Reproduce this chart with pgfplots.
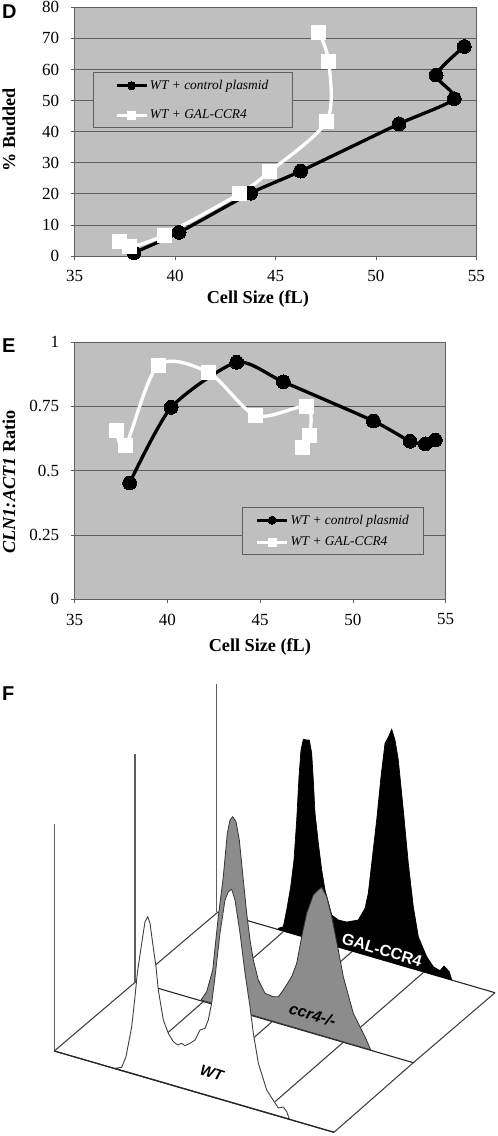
\documentclass[border=0pt]{standalone}
\usepackage{fontspec}
\setmainfont{Liberation Serif}
\newfontfamily\panelfont{Liberation Sans}
\usepackage{pgfplots}
\pgfplotsset{compat=1.18}
\definecolor{plotbg}{HTML}{BFBFBF}
\definecolor{gridc}{HTML}{5F5F5F}
\definecolor{midgray}{HTML}{8C8C8C}
\pgfplotsset{
  panel/.style={
    scale only axis, axis background/.style={fill=plotbg},
    xmin=35, xmax=55, xtick={35,40,45,50,55},
    axis line style={gridc, line width=0.9pt},
    tick style={gridc, line width=0.8pt, major tick length=4pt},
    tick align=outside, xtick pos=bottom, ytick pos=left,
    ymajorgrids, grid style={gridc, line width=0.8pt},
    /pgf/number format/assume math mode=true,
    tick label style={font=\fontsize{17}{19}\selectfont},
    xticklabel style={yshift=-7pt},
    yticklabel style={xshift=-8pt},
    legend cell align=left,
    legend image code/.code={\draw[sharp plot, mark repeat=2, mark phase=2, ##1] plot coordinates {(0pt,0pt)(15pt,0pt)(30pt,0pt)};},
  },
  ctrl/.style={black, line width=3.3pt, smooth, tension=0.4, mark=*, mark size=6.9pt, mark options={solid, fill=black, draw=black, line width=0pt}},
  gal/.style={white, line width=3.3pt, smooth, tension=0.5, mark=square*, mark size=7pt, mark options={solid, fill=white, draw=white, line width=0pt}},
}
\newcommand{\lblfont}{\fontsize{18.2}{20}\selectfont\bfseries}
\begin{document}
\begin{tikzpicture}[x=1pt,y=1pt]
\path[use as bounding box] (0,0) rectangle (498,1136);
% ---------- D
\begin{axis}[panel, at={(74.7pt,880pt)}, anchor=south west, width=401.6pt, height=248.7pt,
  ymin=0, ymax=80, ytick={0,10,...,80},
  xlabel={Cell Size (fL)}, ylabel={\% Budded},
  every axis x label/.style={at={(axis description cs:0.456,-0.173)}, anchor=center, font=\lblfont},
  every axis y label/.style={at={(axis description cs:-0.164,0.507)}, anchor=center, rotate=90, font=\lblfont},
  legend style={at={(axis description cs:0.0448,0.7386)}, anchor=north west, fill=plotbg, draw=gridc, line width=0.9pt,
    font=\fontsize{13.4}{15}\selectfont\itshape, inner xsep=22pt, inner ysep=5.5pt, row sep=15pt,
    legend image post style={mark size=4pt, line width=2.8pt}},
]
\addplot[ctrl] coordinates {(37.95,1.07)(40.2,7.6)(43.76,20.2)(46.25,27.3)(51.15,42.5)(53.9,50.6)(53.0,58.2)(54.4,67.4)};
\addplot[gal] coordinates {(37.25,4.8)(37.75,2.9)(39.45,6.75)(43.2,20)(44.7,27.1)(47.55,43.4)(47.65,62.5)(47.15,72)};
\legend{WT + control plasmid, WT + GAL-CCR4}
\end{axis}
% ---------- E
\begin{axis}[panel, at={(74.7pt,536.7pt)}, anchor=south west, width=371pt, height=257.3pt,
  ymin=0, ymax=1, ytick={0,0.25,0.5,0.75,1}, yticklabels={0,0.25,0.5,0.75,1},
  xlabel={Cell Size (fL)}, ylabel={\textit{CLN1:ACT1} Ratio},
  every axis x label/.style={at={(axis description cs:0.499,-0.184)}, anchor=center, font=\lblfont},
  every axis y label/.style={at={(axis description cs:-0.177,0.456)}, anchor=center, rotate=90, font=\lblfont},
  legend style={at={(axis description cs:0.4518,0.3576)}, anchor=north west, fill=plotbg, draw=gridc, line width=0.9pt,
    font=\fontsize{13.4}{15}\selectfont\itshape, inner xsep=13pt, inner ysep=5pt, row sep=7.4pt,
    legend image post style={mark size=4pt, line width=2.8pt}},
]
\addplot[ctrl] coordinates {(37.96,0.452)(40.2,0.746)(43.73,0.921)(46.25,0.845)(51.1,0.693)(53.08,0.614)(53.9,0.604)(54.44,0.619)};
\addplot[gal] coordinates {(37.26,0.655)(37.75,0.598)(39.5,0.909)(42.22,0.881)(44.77,0.714)(47.5,0.749)(47.67,0.637)(47.3,0.589)};
\legend{WT + control plasmid, WT + GAL-CCR4}
\end{axis}
% ---------- F
\begin{axis}[at={(0pt,0pt)}, anchor=south west, scale only axis, width=498pt, height=476pt,
  xmin=0, xmax=498, ymin=660, ymax=1136, y dir=reverse, axis lines=none, clip=false]
% vertical axes
\addplot[color=gridc, line width=1.5pt] coordinates {(54.5,824)(54.5,1051)};
\addplot[color=gridc, line width=1.5pt] coordinates {(135.2,754)(135.2,982)};
\addplot[color=gridc, line width=1.5pt] coordinates {(216.5,684)(216.5,912)};
% floor
\addplot[color=gridc!70!black, line width=1.1pt] coordinates {(54.3,1051)(136,981.5)(218,912)};
\addplot[color=gridc!70!black, line width=1.1pt] coordinates {(334,1132.3)(413.3,1062.7)(495,992.7)};
\addplot[color=gridc!70!black, line width=1.1pt] coordinates {(124,1071)(283,932)};
\addplot[color=gridc!70!black, line width=1.1pt] coordinates {(193,1091)(353,950.7)};
\addplot[color=gridc!70!black, line width=1.1pt] coordinates {(275,1101.7)(424,972)};
\addplot[color=black!85, line width=1.1pt] coordinates {(54.3,1051)(334,1132.3)};
\addplot[color=black!85, line width=1.1pt] coordinates {(135.5,981.7)(413.3,1062.7)};
\addplot[color=black!85, line width=1.1pt] coordinates {(218,912)(495,992.7)};
% GAL-CCR4 histogram
\addplot[fill=black, draw=black, line width=0.7pt] coordinates {(278.3,929.5)(278.3,928.3)(283.3,926.7)(286.7,910)(290.7,886.7)(294,860)(296.7,820)(299,776.7)(301,750)(303.3,739.3)(306.7,740)(309.3,740)(311.7,753.3)(313.3,780)(315,813)(318.3,843)(321.7,870)(325,890)(331.7,915)(338.3,920)(346.7,922)(358.3,920)(365,908.3)(368.3,893.3)(371.7,863.3)(376.7,820)(381,776.7)(385,743.3)(388.3,737.3)(391.7,729.3)(395,740)(398.3,760)(403.3,810)(408.3,863.3)(413.3,906.7)(418.3,936.7)(426.7,956.7)(433.3,966.7)(440,970.7)(444,966)(449.3,971.7)(451.7,979.9)} -- cycle;
% ccr4 histogram
\addplot[fill=midgray, draw=black!80, line width=0.8pt] coordinates {(201,1000)(206.7,991.7)(212.7,970)(218.3,916.7)(223.3,876.7)(227.3,833.3)(230,820)(232.7,816.7)(236,821.7)(239.3,840)(243.3,880)(246.7,913.3)(250,940)(253.3,960)(258.3,980)(265,993.3)(273.3,996.7)(278.3,996.7)(283.3,990)(291.7,976.7)(296.7,963.3)(301.7,936.7)(306.7,913.3)(313.3,895)(318.3,890)(321.7,887.3)(326.7,896.7)(331.7,916.7)(338.3,950)(343.3,976.7)(353.3,1013.3)(365,1036.7)(370.7,1049.8)} -- cycle;
% WT histogram
\addplot[fill=white, draw=black!75, line width=0.9pt] coordinates {(115,1068.3)(121.7,1067.3)(126,1056.7)(131.7,1026.7)(135,996.7)(137.3,973.3)(141.7,943.3)(145,921.7)(147.7,916.7)(150,923.3)(152.7,943.3)(156,966.7)(158.3,990)(163.3,1020)(168.3,1033.3)(173.3,1041.7)(177.7,1045)(181.7,1043.3)(185,1045.7)(190,1043.3)(195,1040)(200,1030)(205,1028.3)(208.3,1020)(211.7,1003)(215,977)(220,933)(225,900)(228.3,891.7)(231.7,889.3)(235,900)(240,933)(245,973)(250,1006.7)(253.3,1033)(258.3,1063)(266.7,1090)(275,1103)(278.3,1108)(283.3,1107)(286.7,1111.7)(289.3,1119)} -- cycle;
\addplot[color=black!85, line width=1.1pt] coordinates {(54.3,1051)(334,1132.3)};
\node[rotate=-17, font=\fontsize{15}{17}\panelfont\bfseries\itshape] at (axis cs:211.7,1073) {WT};
\node[rotate=-17, font=\fontsize{16}{18}\panelfont\bfseries\itshape] at (axis cs:312.7,1015) {ccr4-/-};
\node[rotate=-17, text=white, font=\fontsize{16}{18}\panelfont\bfseries] at (axis cs:382,950) {GAL-CCR4};
\end{axis}
% panel letters
\node[anchor=base west, inner sep=0pt, font=\fontsize{20}{22}\panelfont\bfseries] at (2,1117) {D};
\node[anchor=base west, inner sep=0pt, font=\fontsize{20}{22}\panelfont\bfseries] at (2,783) {E};
\node[anchor=base west, inner sep=0pt, font=\fontsize{20}{22}\panelfont\bfseries] at (2,435) {F};
\end{tikzpicture}
\end{document}
